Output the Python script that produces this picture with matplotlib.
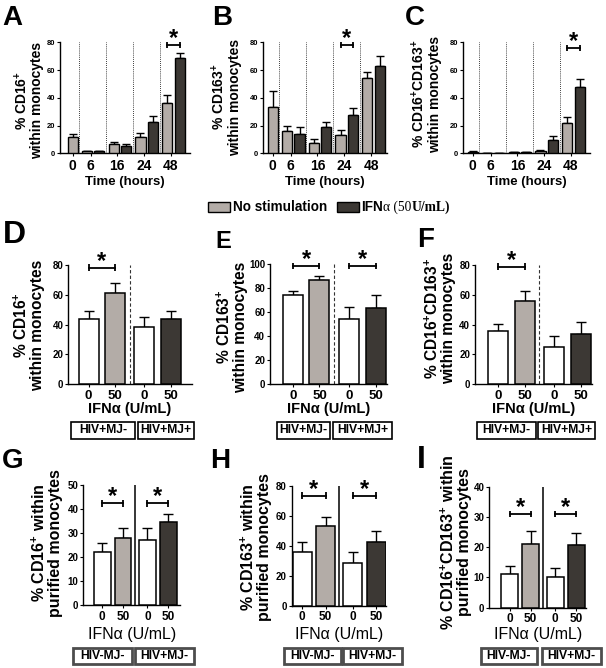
import numpy as np
import matplotlib.pyplot as plt
from matplotlib.patches import Rectangle

plt.rcParams.update({'font.family': 'Liberation Sans', 'font.weight': 'bold',
                     'mathtext.fontset': 'custom', 'mathtext.rm': 'Liberation Sans:bold',
                     'mathtext.bf': 'Liberation Sans:bold', 'mathtext.default': 'rm',
                     'axes.linewidth': 1.0})

W, H = 606, 668
light = '#b3aca7'
dark = '#3c3834'

#### Time course (A-C) ####
hours = ['0', '6', '16', '24', '48']

cd16_nostim = [12.0, 1.4, 6.5, 11.5, 36.0]
cd16_nostim_err = [1.7, 0.5, 1.9, 3.4, 5.8]
cd16_ifn = [1.4, 5.0, 22.3, 69.0]
cd16_ifn_err = [0.4, 1.5, 4.6, 3.6]

cd163_nostim = [33.6, 15.9, 7.7, 13.5, 54.5]
cd163_nostim_err = [11.3, 4.0, 2.4, 3.1, 4.1]
cd163_ifn = [13.7, 18.7, 27.9, 63.2]
cd163_ifn_err = [5.0, 3.6, 4.5, 6.9]

dp_nostim = [1.2, 0.0, 0.6, 1.8, 22.1]
dp_nostim_err = [0.5, 0.0, 0.3, 0.7, 3.8]
dp_ifn = [0.0, 0.9, 9.6, 48.0]
dp_ifn_err = [0.0, 0.3, 2.9, 5.6]

#### IFNa 0 / 50 U/mL (D-I) ####
doses = ['0', '50', '0', '50']

d_vals = [43.6, 61.5, 38.2, 43.6]
d_err = [5.6, 6.7, 7.2, 5.6]
e_vals = [74.4, 86.9, 54.2, 63.9]
e_err = [3.7, 3.4, 10.5, 10.5]
f_vals = [35.5, 55.9, 25.3, 33.7]
f_err = [4.8, 6.9, 7.1, 7.9]

g_vals = [22.2, 28.1, 27.2, 34.4]
g_err = [3.5, 4.1, 5.0, 3.5]
h_vals = [36.0, 53.1, 28.7, 42.7]
h_err = [6.7, 5.8, 6.9, 6.9]
i_vals = [11.1, 21.0, 10.2, 20.7]
i_err = [2.7, 4.3, 3.0, 3.9]

groups_mid = ['HIV+MJ-', 'HIV+MJ+']
groups_bot = ['HIV-MJ-', 'HIV+MJ-']


fig = plt.figure(figsize=(W/100, H/100), dpi=100)


def fx(x):
    return x / W


def fy(y):
    return 1 - y / H


def add_ax(l, t, w, h):
    return fig.add_axes([fx(l), fy(t + h), w / W, h / H])


def style(ax, ymax, ystep, tsize):
    ax.spines['top'].set_visible(False)
    ax.spines['right'].set_visible(False)
    ax.set_ylim(0, ymax)
    ax.set_yticks(np.arange(0, ymax + 1, ystep))
    ax.tick_params(axis='y', length=2.5, width=0.8, pad=1, labelsize=tsize)
    ax.tick_params(axis='x', length=2, width=0.8, pad=2)


def sig(ax, x1, x2, y, axh):
    dy = 3.3 * ax.get_ylim()[1] / axh
    ax.plot([x1, x2], [y, y], color='k', lw=1.3, clip_on=False)
    ax.vlines([x1, x2], y - dy, y + dy, color='k', lw=1.3, clip_on=False)
    ax.annotate('*', xy=((x1 + x2) / 2, y), xytext=(0, 0), textcoords='offset points',
                ha='center', va='baseline', fontsize=17, annotation_clip=False)


def ylab(text, x, y, size=10, ls=1.05):
    fig.text(fx(x), fy(y), text, rotation=90, ha='center', va='center',
             fontsize=size, linespacing=ls, multialignment='center')


def letter(s, x, y, size):
    fig.text(fx(x), fy(y), s, ha='left', va='baseline', fontsize=size)


def time_panel(rect, xlim, nostim, nostim_err, ifn, ifn_err, sig_i, sig_y, label, lab_xy, let, let_xy):
    ax = add_ax(*rect)
    seps = np.arange(4) + 0.72
    xl = np.r_[0.47, seps + 0.28]
    xd = seps + 0.75
    ax.errorbar(xl, nostim, yerr=[np.zeros(5), nostim_err], fmt='none', ecolor='k',
                elinewidth=1, capsize=3, capthick=1, zorder=2)
    ax.errorbar(xd, ifn, yerr=[np.zeros(4), ifn_err], fmt='none', ecolor='k',
                elinewidth=1, capsize=3, capthick=1, zorder=2)
    ax.bar(xl, nostim, 0.38, color=light, edgecolor='k', lw=1, zorder=3)
    ax.bar(xd, ifn, 0.38, color=dark, edgecolor='k', lw=1, zorder=3)
    ax.vlines(seps, 0, 80, colors='k', linestyles=(0, (1, 1.5)), lw=0.6, zorder=1)
    ax.set_xlim(*xlim)
    style(ax, 80, 20, 5.5)
    ax.set_xticks(np.r_[0.47, seps + 0.42], hours, fontsize=10)
    sig(ax, xl[sig_i], xd[sig_i - 1], sig_y, rect[3])
    ylab(label, *lab_xy)
    letter(let, let_xy[0], let_xy[1], 20)
    fig.text(fx(rect[0] + rect[2] / 2), fy(182), 'Time (hours)', ha='center', va='center',
             fontsize=9.5)
    return ax


def dose_panel(rect, xlim, pos, width, vals, errs, ymax, ystep, sig_pairs, sig_y, colours):
    ax = add_ax(*rect)
    ax.errorbar(pos, vals, yerr=[np.zeros(4), errs], fmt='none', ecolor='k',
                elinewidth=1, capsize=3.5, capthick=1, zorder=2)
    ax.bar(pos, vals, width, color=colours, edgecolor='k', lw=1.1, zorder=3)
    ax.set_xlim(*xlim)
    style(ax, ymax, ystep, 7)
    for a, b in sig_pairs:
        sig(ax, pos[a], pos[b], sig_y, rect[3])
    return ax


def box(x0, x1, y0, y1, text, ec, lw):
    fig.patches.append(Rectangle((fx(x0), fy(y1)), (x1 - x0) / W, (y1 - y0) / H,
                                 transform=fig.transFigure, fc='white', ec=ec, lw=lw))
    fig.text(fx((x0 + x1) / 2), fy((y0 + y1) / 2), text, ha='center', va='center',
             fontsize=8.7)


# Top row
time_panel((60, 42.3, 130, 111), (0, 4.85), cd16_nostim, cd16_nostim_err, cd16_ifn,
           cd16_ifn_err, 4, 78, '% CD16$^{+}$\nwithin monocytes', (28.5, 100), 'A', (2, 25))
time_panel((263.3, 42.3, 123.4, 111), (0.12, 4.72), cd163_nostim, cd163_nostim_err,
           cd163_ifn, cd163_ifn_err, 3, 78, '% CD163$^{+}$\nwithin monocytes', (226, 97),
           'B', (212, 25))
time_panel((463.3, 42.3, 126.7, 111), (0.12, 4.85), dp_nostim, dp_nostim_err, dp_ifn,
           dp_ifn_err, 4, 76, '% CD16$^{+}$CD163$^{+}$\nwithin monocytes', (426, 94),
           'C', (405, 25))

# Legend
fig.patches.append(Rectangle((fx(208), fy(212)), 22 / W, 10 / H, transform=fig.transFigure,
                             fc=light, ec='k', lw=1))
fig.text(fx(233), fy(207), 'No stimulation', ha='left', va='center', fontsize=9.75)
fig.patches.append(Rectangle((fx(336.7), fy(212)), 22 / W, 10 / H, transform=fig.transFigure,
                             fc=dark, ec='k', lw=1))
renderer = fig.canvas.get_renderer()
xpos = fx(361)
for s, fam, wt in [('IFN', 'Liberation Sans', 'bold'), ('\u03b1 (50', 'Liberation Serif', 'normal'),
                   ('U/mL)', 'Liberation Serif', 'bold')]:
    t = fig.text(xpos, fy(207), s, ha='left', va='center', fontsize=9.75, family=fam, weight=wt)
    bb = t.get_window_extent(renderer)
    xpos += bb.width / W

# Middle row
mid_pos = [0.92, 1.98, 3.15, 4.24]
mid_cols = ['white', light, 'white', dark]
mid = [((68.3, 265, 123.4, 119.3), (0.1, 5.07), d_vals, d_err, 80, 20, [(0, 1)], 78.2,
        '% CD16$^{+}$\nwithin monocytes', (29, 325), 'D', (3, 243), 23),
       ((270, 264.3, 116.7, 120), (0, 4.67), e_vals, e_err, 100, 20, [(0, 1), (2, 3)], 98.6,
        '% CD163$^{+}$\nwithin monocytes', (232, 327), 'E', (215, 248), 17),
       ((475, 265, 117, 119.3), (0, 4.67), f_vals, f_err, 80, 20, [(0, 1)], 78.9,
        '% CD16$^{+}$CD163$^{+}$\nwithin monocytes', (440, 318), 'F', (417, 247), 20)]
mid_boxes = [(71, 135, 138.3, 194.3), (276.7, 330, 333.3, 391.7), (476.7, 535.7, 538.3, 595)]
for (rect, xlim, v, e, ymax, ystep, pairs, sy, lab, lxy, let, lexy, lsz), bx in zip(mid, mid_boxes):
    ax = dose_panel(rect, xlim, mid_pos, 0.8, v, e, ymax, ystep, pairs, sy, mid_cols)
    ax.vlines(2.57, 0, ymax, colors='#333333', linestyles=(0, (3, 2)), lw=0.8, zorder=1)
    ax.set_xticks(mid_pos, doses, fontsize=9.5)
    ylab(lab, lxy[0], lxy[1], 11.2, 0.95)
    letter(let, lexy[0], lexy[1], lsz)
    fig.text(fx(rect[0] + rect[2] / 2), fy(409), 'IFN\u03b1 (U/mL)', ha='center',
             va='center', fontsize=10.5)
    box(bx[0], bx[1], 421.7, 439, groups_mid[0], 'k', 1.2)
    box(bx[2], bx[3], 421.7, 439, groups_mid[1], 'k', 1.2)

# Bottom row
bot_pos = [1.0, 2.05, 3.28, 4.33]
bot = [((83.3, 485, 96.7, 120), (0.05, 4.92), g_vals, g_err, 50, 10, 42.4,
        '% CD16$^{+}$ within\npurified monocytes', (47, 543), 'G', (2, 468), 20),
       ((291.7, 485.7, 94, 120), (0.53, 4.75), h_vals, h_err, 80, 20, 73.3,
        '% CD163$^{+}$ within\npurified monocytes', (256, 547), 'H', (210, 468), 20),
       ((489.3, 486.7, 96.7, 121), (-0.025, 4.83), i_vals, i_err, 40, 10, 31.0,
        '% CD16$^{+}$CD163$^{+}$ within\npurified monocytes', (456, 542), 'I', (417, 468), 23)]
bot_boxes = [(72.7, 132.3, 135, 194), (284.3, 340.7, 343.3, 402.3), (481, 536.7, 541.7, 600.7)]
for (rect, xlim, v, e, ymax, ystep, sy, lab, lxy, let, lexy, lsz), bx in zip(bot, bot_boxes):
    ax = dose_panel(rect, xlim, bot_pos, 0.85, v, e, ymax, ystep, [(0, 1), (2, 3)], sy,
                    mid_cols)
    ax.vlines(2.65, 0, ymax, colors='k', lw=1.1, zorder=1)
    ax.set_xticks(bot_pos, doses, fontsize=8.5)
    ylab(lab, lxy[0], lxy[1], 11.5, 0.95)
    letter(let, lexy[0], lexy[1], lsz)
    fig.text(fx(rect[0] + rect[2] / 2), fy(634), 'IFN\u03b1 (U/mL)', ha='center',
             va='center', fontsize=11.5, weight='normal')
    box(bx[0], bx[1], 648.3, 664.3, groups_bot[0], '#4d4d4d', 2)
    box(bx[2], bx[3], 648.3, 664.3, groups_bot[1], '#4d4d4d', 2)

fig.savefig('out.png', dpi=100)
